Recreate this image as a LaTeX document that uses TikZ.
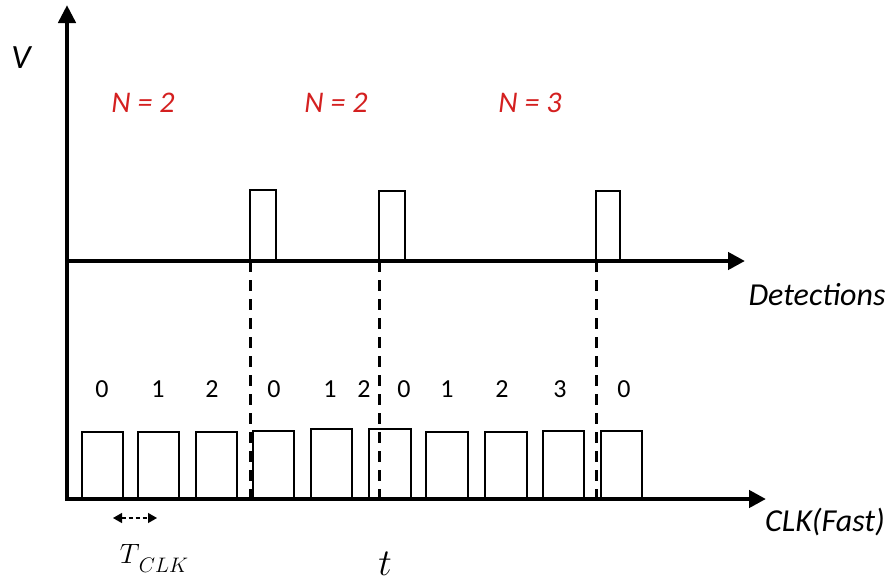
\documentclass[tikz,border=0pt]{standalone}
\usepackage{fix-cm}
\usepackage{fontspec}
\setmainfont{Carlito}
\usetikzlibrary{arrows.meta}
\definecolor{countred}{RGB}{212,32,32}
\tikzset{
  axis/.style={line width=4.5pt, -{Triangle[length=17pt,width=17pt]}},
  pulse/.style={line width=2pt, line join=miter},
  marker/.style={line width=3pt, dash pattern=on 11pt off 8pt},
  lbl/.style={font=\fontsize{32}{38}\selectfont\itshape, inner sep=0pt},
  count/.style={font=\fontsize{30}{36}\selectfont\itshape, text=countred, inner sep=0pt},
  digit/.style={font=\fontsize{26}{31}\selectfont, inner sep=0pt},
}
\begin{document}
\begin{tikzpicture}[x=1pt,y=-1pt]
  \useasboundingbox (0,0) rectangle (894,581);

  % axes
  \coordinate (origin) at (67,500);
  \coordinate (vtop) at (67,5);
  \coordinate (detL) at (67,261);
  \coordinate (detR) at (745,261);
  \coordinate (clkL) at (65,499);
  \coordinate (clkR) at (766,499);

  % detection pulses
  \foreach \xa/\xb/\ytop in {250/276/190, 379/405/191, 596/620/191}
    \draw[pulse] (\xa,261) -- (\xa,\ytop) -- (\xb,\ytop) -- (\xb,261);

  % clock pulses
  \foreach \xa/\xb/\ytop in {82/123/432, 138/179/432, 196/237/432, 253/294/431,
                             311/352/429, 369/411/429, 426/468/432, 485/527/432,
                             543/584/431, 601/642/431}
    \draw[pulse] (\xa,498) -- (\xa,\ytop) -- (\xb,\ytop) -- (\xb,498);

  % detection instants carried down to the clock
  \foreach \x/\n in {250/a, 379/b, 596/c} {
    \coordinate (m\n top) at (\x,261);
    \coordinate (m\n bot) at (\x,499);
    \draw[marker] (m\n top) -- (m\n bot);
  }

  \draw[axis] (detL) -- (detR);
  \draw[axis] (clkL) -- (clkR);
  \draw[line width=4.5pt, -{Triangle[length=18pt,width=17pt]}] (origin) -- (vtop);

  % labels
  \node[font=\fontsize{34}{40}\selectfont\itshape, inner sep=0pt] (vlabel) at (21,58) {V};
  \node[count] (n1) at (143,103) {N = 2};
  \node[count] (n2) at (336,103) {N = 2};
  \node[count] (n3) at (530,103) {N = 3};
  \node[lbl] (detlabel) at (817,295) {Detections};
  \node[lbl] (clklabel) at (825,522) {CLK(Fast)};

  % counter values
  \foreach \x/\v [count=\i] in {102/0, 158/1, 212/2, 274/0, 330/1, 364/2,
                                404/0, 447/1, 502/2, 560/3, 624/0}
    \node[digit] (c\i) at (\x,389) {\v};

  % clock period
  \coordinate (tl) at (113,518);
  \coordinate (tr) at (157,518);
  \draw[line width=1.2pt, dash pattern=on 4pt off 3pt,
        {Triangle[length=9pt,width=10pt]}-{Triangle[length=9pt,width=10pt]}] (tl) -- (tr);
  \node[inner sep=0pt, anchor=base, font=\fontsize{28}{33}\selectfont] (tclk) at (154,563)
    {$T$\kern-1pt\raisebox{-9pt}{\fontsize{21}{25}\selectfont$CLK$}};
  \node[inner sep=0pt, anchor=base, font=\fontsize{38}{44}\selectfont] (tlabel) at (385,575) {$t$};
\end{tikzpicture}
\end{document}
